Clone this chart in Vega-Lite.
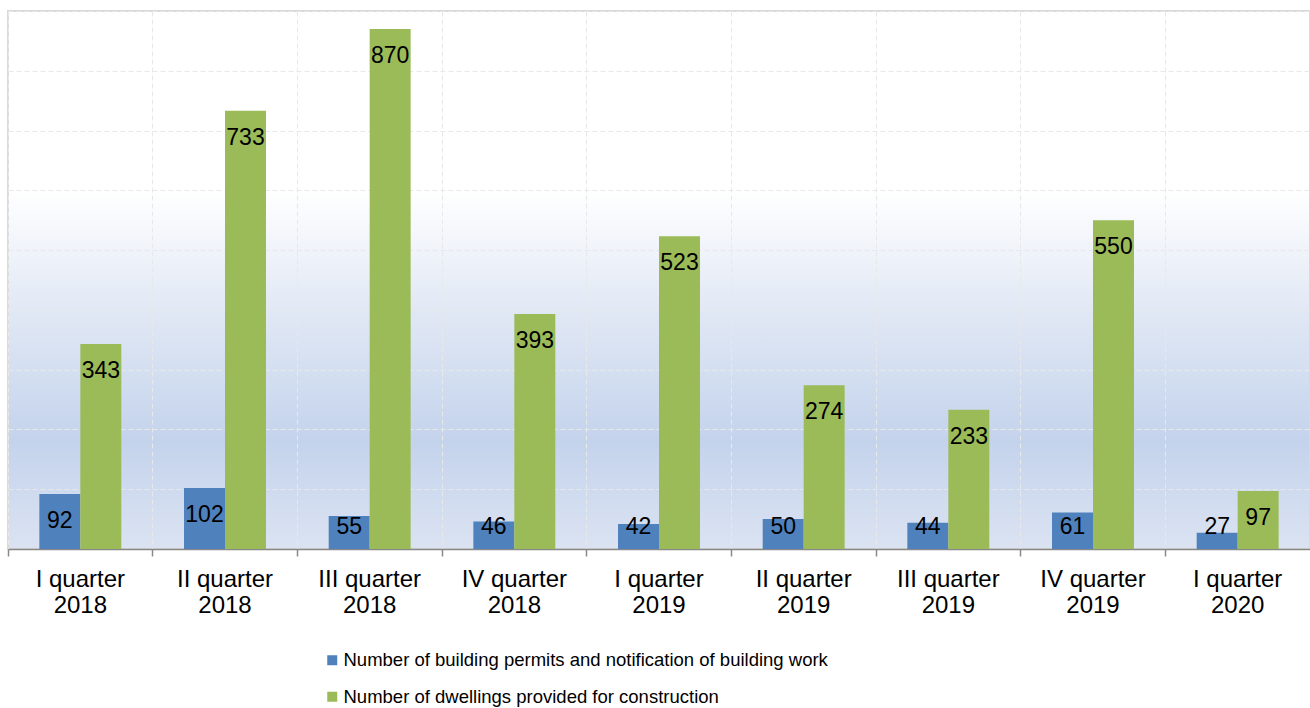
{
  "$schema": "https://vega.github.io/schema/vega-lite/v6.json",
  "width": 1302,
  "height": 538,
  "autosize": {"type": "none"},
  "padding": {"left": 8, "top": 11, "right": 0, "bottom": 159},
  "background": "white",
  "config": {
    "font": "Liberation Sans",
    "view": {
      "fill": {
        "gradient": "linear",
        "x1": 0, "y1": 0, "x2": 0, "y2": 1,
        "stops": [
          {"offset": 0, "color": "#ffffff"},
          {"offset": 0.33, "color": "#ffffff"},
          {"offset": 0.55, "color": "#e2e9f5"},
          {"offset": 0.8, "color": "#c4d3ec"},
          {"offset": 1, "color": "#dbe3f2"}
        ]
      },
      "stroke": "#d9d9d9",
      "strokeWidth": 2
    }
  },
  "data": {
    "values": [
      {"quarter": "I quarter 2018", "series": "Number of building permits and notification of building work", "value": 92},
      {"quarter": "II quarter 2018", "series": "Number of building permits and notification of building work", "value": 102},
      {"quarter": "III quarter 2018", "series": "Number of building permits and notification of building work", "value": 55},
      {"quarter": "IV quarter 2018", "series": "Number of building permits and notification of building work", "value": 46},
      {"quarter": "I quarter 2019", "series": "Number of building permits and notification of building work", "value": 42},
      {"quarter": "II quarter 2019", "series": "Number of building permits and notification of building work", "value": 50},
      {"quarter": "III quarter 2019", "series": "Number of building permits and notification of building work", "value": 44},
      {"quarter": "IV quarter 2019", "series": "Number of building permits and notification of building work", "value": 61},
      {"quarter": "I quarter 2020", "series": "Number of building permits and notification of building work", "value": 27},
      {"quarter": "I quarter 2018", "series": "Number of dwellings provided for construction", "value": 343},
      {"quarter": "II quarter 2018", "series": "Number of dwellings provided for construction", "value": 733},
      {"quarter": "III quarter 2018", "series": "Number of dwellings provided for construction", "value": 870},
      {"quarter": "IV quarter 2018", "series": "Number of dwellings provided for construction", "value": 393},
      {"quarter": "I quarter 2019", "series": "Number of dwellings provided for construction", "value": 523},
      {"quarter": "II quarter 2019", "series": "Number of dwellings provided for construction", "value": 274},
      {"quarter": "III quarter 2019", "series": "Number of dwellings provided for construction", "value": 233},
      {"quarter": "IV quarter 2019", "series": "Number of dwellings provided for construction", "value": 550},
      {"quarter": "I quarter 2020", "series": "Number of dwellings provided for construction", "value": 97}
    ]
  },
  "encoding": {
    "x": {
      "field": "quarter",
      "type": "nominal",
      "sort": null,
      "scale": {"paddingInner": 0, "paddingOuter": 0},
      "axis": {
        "title": null,
        "labelAngle": 0,
        "labelFontSize": 24,
        "labelLineHeight": 26,
        "labelColor": "#000000",
        "labelPadding": 11,
        "labelExpr": "[substring(datum.label, 0, lastindexof(datum.label, ' ')), substring(datum.label, lastindexof(datum.label, ' ') + 1)]",
        "bandPosition": 0,
        "tickSize": 7,
        "tickColor": "#888888",
        "tickWidth": 1.5,
        "domainColor": "#888888",
        "domainWidth": 1.5,
        "grid": true,
        "gridColor": "#e8e8e8",
        "gridDash": [5, 3],
        "gridWidth": 1
      }
    },
    "xOffset": {
      "field": "series",
      "type": "nominal",
      "scale": {
        "domain": ["Number of building permits and notification of building work", "Number of dwellings provided for construction"],
        "paddingInner": 0,
        "paddingOuter": 0.765
      }
    }
  },
  "layer": [
    {
      "mark": {"type": "bar"},
      "encoding": {
        "y": {
          "field": "value",
          "type": "quantitative",
          "scale": {"domain": [0, 900], "nice": false},
          "axis": {
            "title": null,
            "labels": false,
            "ticks": false,
            "domain": false,
            "values": [0, 100, 200, 300, 400, 500, 600, 700, 800, 900],
            "grid": true,
            "gridColor": "#e8e8e8",
            "gridDash": [5, 3],
            "gridWidth": 1
          }
        },
        "color": {
          "field": "series",
          "type": "nominal",
          "scale": {
            "domain": ["Number of building permits and notification of building work", "Number of dwellings provided for construction"],
            "range": ["#4f81bd", "#9bbb59"]
          },
          "legend": {
            "title": null,
            "orient": "none",
            "legendX": 315,
            "legendY": 640,
            "direction": "vertical",
            "padding": 0,
            "symbolType": "square",
            "symbolSize": 100,
            "symbolStrokeWidth": 0,
            "labelFontSize": 18.5,
            "labelColor": "#000000",
            "labelOffset": 2,
            "labelLimit": 1000,
            "rowPadding": 17.5
          }
        }
      }
    },
    {
      "transform": [{"calculate": "max(datum.value, 82)", "as": "labelPos"}],
      "mark": {"type": "text", "baseline": "middle", "align": "center", "dy": 27, "fontSize": 23, "color": "#000000"},
      "encoding": {
        "y": {"field": "labelPos", "type": "quantitative"},
        "text": {"field": "value", "type": "quantitative"}
      }
    }
  ]
}
